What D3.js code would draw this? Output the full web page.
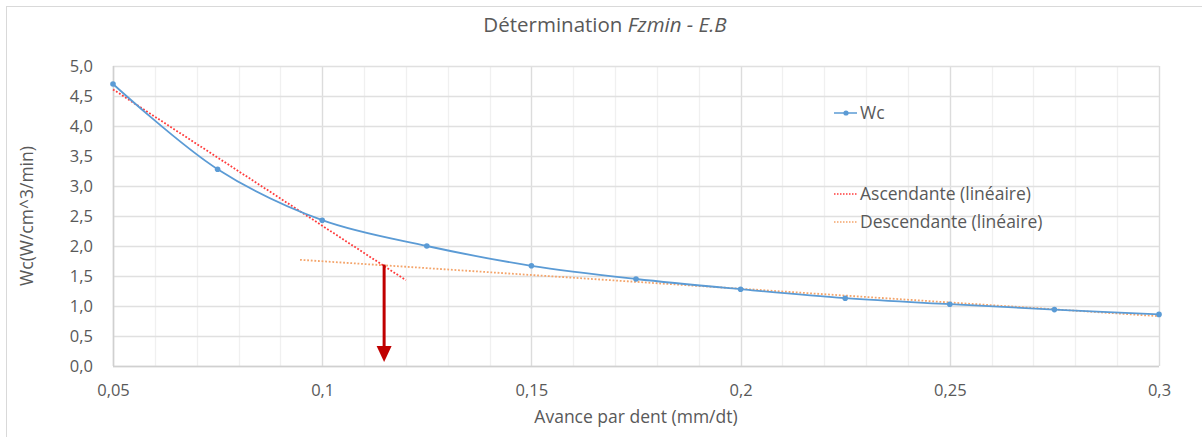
<!DOCTYPE html>
<html>
<head>
<meta charset="utf-8">
<script src="https://cdn.jsdelivr.net/npm/d3@7"></script>
<style>
  html, body { margin: 0; padding: 0; background: #fff; }
  svg { display: block; font-family: "Open Sans", "Noto Sans", sans-serif; }
</style>
</head>
<body>
<svg id="chart" width="1202" height="437"></svg>
<script>
// ---- Data ----
const avance = [0.05, 0.075, 0.1, 0.125, 0.15, 0.175, 0.2, 0.225, 0.25, 0.275, 0.3];
const wc = [4.70, 3.28, 2.43, 2.00, 1.67, 1.45, 1.28, 1.13, 1.03, 0.94, 0.86];
const ascendanteX = [0.05, 0.12];
const ascendanteY = [4.61, 1.43];
const descendanteX = [0.0947, 0.3];
const descendanteY = [1.77, 0.83];
const intersection = [0.1148, 1.69];
const xTicks = [0.05, 0.1, 0.15, 0.2, 0.25, 0.3];
const xTickLabels = ["0,05", "0,1", "0,15", "0,2", "0,25", "0,3"];
const yTicks = [0, 0.5, 1, 1.5, 2, 2.5, 3, 3.5, 4, 4.5, 5];
const yTickLabels = ["0,0", "0,5", "1,0", "1,5", "2,0", "2,5", "3,0", "3,5", "4,0", "4,5", "5,0"];
const seriesNames = ["Wc", "Ascendante (linéaire)", "Descendante (linéaire)"];

// ---- Layout ----
const svg = d3.select("#chart");
const pL = 113, pR = 1159, pT = 66, pB = 366;
const x = d3.scaleLinear().domain([0.05, 0.3]).range([pL, pR]);
const y = d3.scaleLinear().domain([0, 5]).range([pB, pT]);

// chart border
svg.append("rect").attr("x", 6.5).attr("y", 6.5).attr("width", 1210).attr("height", 440)
  .attr("fill", "none").attr("stroke", "#d9d9d9").attr("stroke-width", 1);

// minor vertical gridlines every 0.01
const minor = d3.range(0, 26).map(i => 0.05 + i * 0.01);
svg.append("g").selectAll("line").data(minor).join("line")
  .attr("x1", d => Math.round(x(d)) + 0.5).attr("x2", d => Math.round(x(d)) + 0.5)
  .attr("y1", pT).attr("y2", pB)
  .attr("stroke", "#f0f0f0").attr("stroke-width", 1.3);

// major vertical gridlines
svg.append("g").selectAll("line").data(xTicks).join("line")
  .attr("x1", d => Math.round(x(d)) + 0.5).attr("x2", d => Math.round(x(d)) + 0.5)
  .attr("y1", pT).attr("y2", pB)
  .attr("stroke", "#dcdcdc").attr("stroke-width", 1.3);

// horizontal gridlines
svg.append("g").selectAll("line").data(yTicks).join("line")
  .attr("x1", pL).attr("x2", pR)
  .attr("y1", d => Math.round(y(d)) + 0.5).attr("y2", d => Math.round(y(d)) + 0.5)
  .attr("stroke", "#e0e0e0").attr("stroke-width", 1.3);

// axis lines
svg.append("line").attr("x1", pL + 0.5).attr("x2", pL + 0.5).attr("y1", pT).attr("y2", pB)
  .attr("stroke", "#d0d0d0").attr("stroke-width", 1.5);
svg.append("line").attr("x1", pL).attr("x2", pR).attr("y1", pB + 0.5).attr("y2", pB + 0.5)
  .attr("stroke", "#d0d0d0").attr("stroke-width", 1.5);

// tick labels
const yAxis = d3.axisLeft(y).tickValues(yTicks).tickFormat((d, i) => yTickLabels[i]).tickSize(0).tickPadding(20);
const gy = svg.append("g").attr("transform", `translate(${pL},0)`).call(yAxis);
gy.select(".domain").remove();
gy.selectAll("text").attr("fill", "#595959").style("font-size", "16.5px").style("font-family", "Open Sans");

const xAxis = d3.axisBottom(x).tickValues(xTicks).tickFormat((d, i) => xTickLabels[i]).tickSize(0).tickPadding(18);
const gx = svg.append("g").attr("transform", `translate(0,${pB})`).call(xAxis);
gx.select(".domain").remove();
gx.selectAll("text").attr("fill", "#595959").style("font-size", "16.5px").style("font-family", "Open Sans");

// title
const title = svg.append("text").attr("x", 605).attr("y", 32).attr("text-anchor", "middle")
  .attr("fill", "#595959").style("font-size", "20.5px");
title.append("tspan").text("Détermination ");
title.append("tspan").attr("font-style", "italic").text("Fzmin - E.B");

// axis titles
svg.append("text").attr("x", 636).attr("y", 423).attr("text-anchor", "middle")
  .attr("fill", "#595959").style("font-size", "17.5px").text("Avance par dent (mm/dt)");
svg.append("text").attr("transform", "translate(33,216) rotate(-90)").attr("text-anchor", "middle")
  .attr("fill", "#595959").style("font-size", "17.5px").text("Wc(W/cm^3/min)");

// trend lines
const line2 = d3.line().x(d => x(d[0])).y(d => y(d[1]));
svg.append("path").datum(descendanteX.map((d, i) => [d, descendanteY[i]]))
  .attr("d", line2).attr("fill", "none").attr("stroke", "#f4a46a")
  .attr("stroke-width", 1.8).attr("stroke-dasharray", "1.8,1.8");
svg.append("path").datum(ascendanteX.map((d, i) => [d, ascendanteY[i]]))
  .attr("d", line2).attr("fill", "none").attr("stroke", "#ff3b3b")
  .attr("stroke-width", 1.8).attr("stroke-dasharray", "1.8,1.8");

// Wc series
const pts = avance.map((d, i) => [d, wc[i]]);
svg.append("path").datum(pts)
  .attr("d", d3.line().x(d => x(d[0])).y(d => y(d[1])).curve(d3.curveCatmullRom.alpha(0.5)))
  .attr("fill", "none").attr("stroke", "#5b9bd5").attr("stroke-width", 1.8);
svg.append("g").selectAll("circle").data(pts).join("circle")
  .attr("cx", d => x(d[0])).attr("cy", d => y(d[1])).attr("r", 2.8)
  .attr("fill", "#5b9bd5");

// arrow
const ax = x(intersection[0]);
svg.append("line").attr("x1", ax).attr("x2", ax).attr("y1", y(intersection[1])).attr("y2", y(0) - 18)
  .attr("stroke", "#c00000").attr("stroke-width", 3);
svg.append("path")
  .attr("d", `M${ax - 7.5},${y(0) - 20} L${ax + 7.5},${y(0) - 20} L${ax},${y(0) - 4} Z`)
  .attr("fill", "#c00000");

// legend
const legY = [113, 194, 222];
const lg = svg.append("g");
lg.append("line").attr("x1", 834).attr("x2", 857).attr("y1", legY[0]).attr("y2", legY[0])
  .attr("stroke", "#5b9bd5").attr("stroke-width", 1.5);
lg.append("circle").attr("cx", 846).attr("cy", legY[0]).attr("r", 2.6).attr("fill", "#5b9bd5");
lg.append("line").attr("x1", 834).attr("x2", 857).attr("y1", legY[1]).attr("y2", legY[1])
  .attr("stroke", "#ff3b3b").attr("stroke-width", 1.5).attr("stroke-dasharray", "1.5,1.5");
lg.append("line").attr("x1", 834).attr("x2", 857).attr("y1", legY[2]).attr("y2", legY[2])
  .attr("stroke", "#f4a46a").attr("stroke-width", 1.5).attr("stroke-dasharray", "1.5,1.5");
lg.selectAll("text").data(seriesNames).join("text")
  .attr("x", 860).attr("y", (d, i) => legY[i]).attr("dy", "0.35em")
  .attr("fill", "#595959").style("font-size", "17.5px").text(d => d);
</script>
</body>
</html>
